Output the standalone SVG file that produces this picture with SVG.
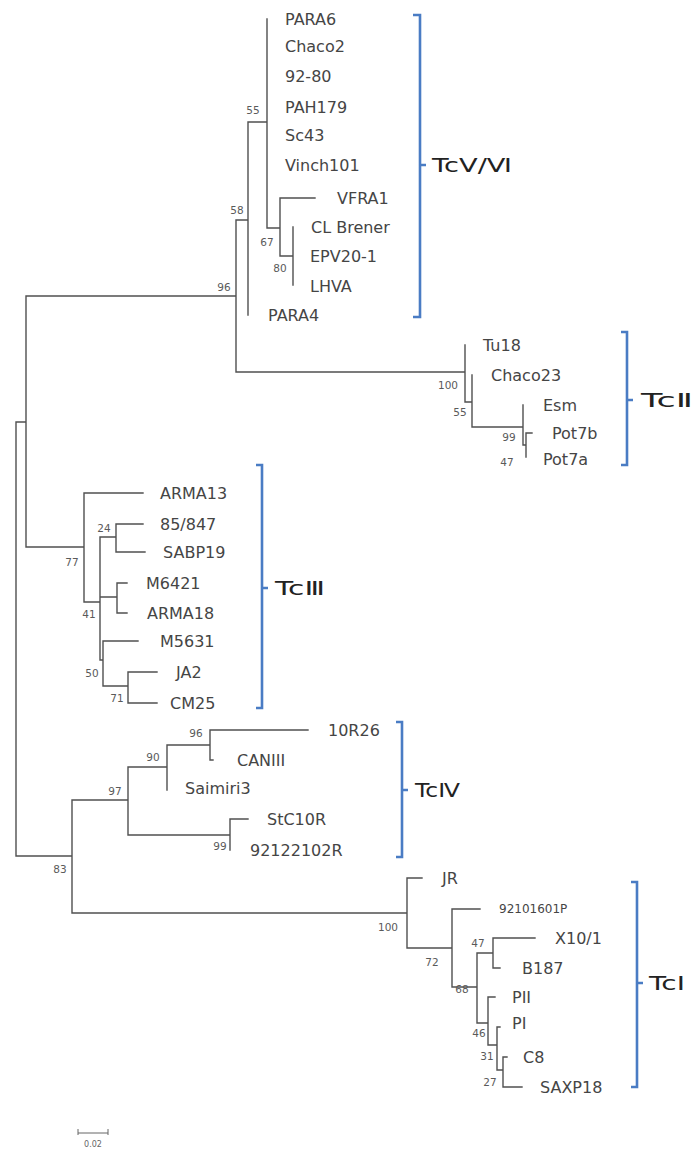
<svg xmlns="http://www.w3.org/2000/svg" width="693" height="1153" viewBox="0 0 693 1153">
<style>
.br{fill:none;stroke:#505050;stroke-width:1.4;stroke-linecap:square}
.lf{font-family:"DejaVu Sans",sans-serif;font-size:16px;fill:#454545;dominant-baseline:central}
.sm{font-size:12px}
.bs{font-family:"DejaVu Sans",sans-serif;font-size:10.5px;fill:#5a5a5a;text-anchor:middle;dominant-baseline:central}
.bk{fill:none;stroke:#4a7cc4;stroke-width:2.6}
.ct{font-family:"DejaVu Sans",sans-serif;font-size:20px;fill:#222;dominant-baseline:central}
</style>
<rect width="693" height="1153" fill="#fff"/>
<g id="connectors">
<path class="br" d="M16,422V856M16,422H26M26,296V547M16,856H72
M26,296H236M236,220V372M236,220H248M248,122V315M248,122H267M267,19V228M267,228H280M280,198V256M280,198H315M280,256H293M293,227V285M236,372H465
M465,345V402M465,402H472M472,375V427M472,427H523M523,405V445M523,445H526M526,433V457M526,433H532
M26,547H84M84,493V602M84,493H143M84,602H100M100,537V660M100,537H116M116,524V552M116,524H143M116,552H145M100,597H117M117,583V613M117,583H127M117,613H127M100,660H103M103,641V686M103,641H138M103,686H128M128,672V703M128,672H157M128,703H157
M72,800V913M72,800H128M128,767V835M128,767H167M167,745V790M167,745H210M210,730V760M210,730H308M210,760H213M128,835H230M230,819V850M230,819H248
M72,913H407M407,878V948M407,878H422M407,948H452M452,909V987M452,909H480M452,987H477M477,953V1023M477,953H493M493,938V968M493,938H535M493,968H500M477,1023H488M488,997V1045M488,997H495M488,1045H497M497,1027V1070M497,1027H500M497,1070H503M503,1057V1087M503,1057H507M503,1087H522"/>
</g>
<g id="bootstrap">
<text class="bs" x="253" y="110">55</text>
<text class="bs" x="237" y="210">58</text>
<text class="bs" x="224" y="287">96</text>
<text class="bs" x="267" y="242">67</text>
<text class="bs" x="280" y="268">80</text>
<text class="bs" x="448" y="385">100</text>
<text class="bs" x="460" y="412">55</text>
<text class="bs" x="509" y="437">99</text>
<text class="bs" x="507" y="462">47</text>
<text class="bs" x="104" y="528">24</text>
<text class="bs" x="72" y="562">77</text>
<text class="bs" x="89" y="614">41</text>
<text class="bs" x="92" y="673">50</text>
<text class="bs" x="117" y="698">71</text>
<text class="bs" x="196" y="733">96</text>
<text class="bs" x="153" y="757">90</text>
<text class="bs" x="115" y="791">97</text>
<text class="bs" x="220" y="846">99</text>
<text class="bs" x="60" y="869">83</text>
<text class="bs" x="388" y="927">100</text>
<text class="bs" x="432" y="962">72</text>
<text class="bs" x="478" y="943">47</text>
<text class="bs" x="462" y="989">68</text>
<text class="bs" x="479" y="1033">46</text>
<text class="bs" x="487" y="1056">31</text>
<text class="bs" x="490" y="1082">27</text>
</g>
<g id="leaves-TcV-VI">
<text id="PARA6" class="lf" x="285" y="19">PARA6</text>
<text id="Chaco2" class="lf" x="285" y="46">Chaco2</text>
<text id="n92-80" class="lf" x="285" y="76">92-80</text>
<text id="PAH179" class="lf" x="285" y="107">PAH179</text>
<text id="Sc43" class="lf" x="285" y="135">Sc43</text>
<text id="Vinch101" class="lf" x="285" y="165">Vinch101</text>
<text id="VFRA1" class="lf" x="337" y="198">VFRA1</text>
<text id="CLBrener" class="lf" x="311" y="227">CL Brener</text>
<text id="EPV20-1" class="lf" x="310" y="256">EPV20-1</text>
<text id="LHVA" class="lf" x="310" y="286">LHVA</text>
<text id="PARA4" class="lf" x="268" y="315">PARA4</text>
</g>
<g id="leaves-TcII">
<text id="Tu18" class="lf" x="483" y="345">Tu18</text>
<text id="Chaco23" class="lf" x="491" y="375">Chaco23</text>
<text id="Esm" class="lf" x="543" y="405">Esm</text>
<text id="Pot7b" class="lf" x="552" y="433">Pot7b</text>
<text id="Pot7a" class="lf" x="543" y="459">Pot7a</text>
</g>
<g id="leaves-TcIII">
<text id="ARMA13" class="lf" x="160" y="493">ARMA13</text>
<text id="n85-847" class="lf" x="160" y="524">85/847</text>
<text id="SABP19" class="lf" x="163" y="552">SABP19</text>
<text id="M6421" class="lf" x="146" y="583">M6421</text>
<text id="ARMA18" class="lf" x="147" y="613">ARMA18</text>
<text id="M5631" class="lf" x="160" y="641">M5631</text>
<text id="JA2" class="lf" x="176" y="672">JA2</text>
<text id="CM25" class="lf" x="170" y="703">CM25</text>
</g>
<g id="leaves-TcIV">
<text id="n10R26" class="lf" x="328" y="730">10R26</text>
<text id="CANIII" class="lf" x="237" y="760">CANIII</text>
<text id="Saimiri3" class="lf" x="185" y="788">Saimiri3</text>
<text id="StC10R" class="lf" x="267" y="819">StC10R</text>
<text id="n92122102R" class="lf" x="250" y="850">92122102R</text>
</g>
<g id="leaves-TcI">
<text id="JR" class="lf" x="442" y="878">JR</text>
<text id="n92101601P" class="lf sm" x="499" y="909">92101601P</text>
<text id="X10-1" class="lf" x="555" y="938">X10/1</text>
<text id="B187" class="lf" x="522" y="968">B187</text>
<text id="PII" class="lf" x="512" y="997">PII</text>
<text id="PI" class="lf" x="512" y="1023">PI</text>
<text id="C8" class="lf" x="523" y="1057">C8</text>
<text id="SAXP18" class="lf" x="540" y="1087">SAXP18</text>
</g>
<g id="clade-TcV-VI">
<path class="bk" d="M413,15H420V317H413M420,165H426"/>
<text class="ct" x="432" y="165" textLength="80" lengthAdjust="spacingAndGlyphs">TcⅤ/Ⅵ</text>
</g>
<g id="clade-TcII">
<path class="bk" d="M621,332H627V465H621M627,400H633"/>
<text class="ct" x="641" y="400" textLength="52" lengthAdjust="spacingAndGlyphs">TcⅡ</text>
</g>
<g id="clade-TcIII">
<path class="bk" d="M256,465H262V708H256M262,588H268"/>
<text class="ct" x="275" y="588" textLength="50" lengthAdjust="spacingAndGlyphs">TcⅢ</text>
</g>
<g id="clade-TcIV">
<path class="bk" d="M396,722H402V857H396M402,790H408"/>
<text class="ct" x="415" y="790" textLength="45" lengthAdjust="spacingAndGlyphs">TcⅣ</text>
</g>
<g id="clade-TcI">
<path class="bk" d="M631,882H637V1087H631M637,983H643"/>
<text class="ct" x="649" y="983" textLength="36" lengthAdjust="spacingAndGlyphs">TcⅠ</text>
</g>
<g id="scalebar">
<path d="M78,1129V1135M108,1129V1135M78,1133H108" fill="none" stroke="#666" stroke-width="1"/>
<text x="93" y="1144" font-family="DejaVu Sans, sans-serif" font-size="8" fill="#666" text-anchor="middle" dominant-baseline="central">0.02</text>
</g>
</svg>
